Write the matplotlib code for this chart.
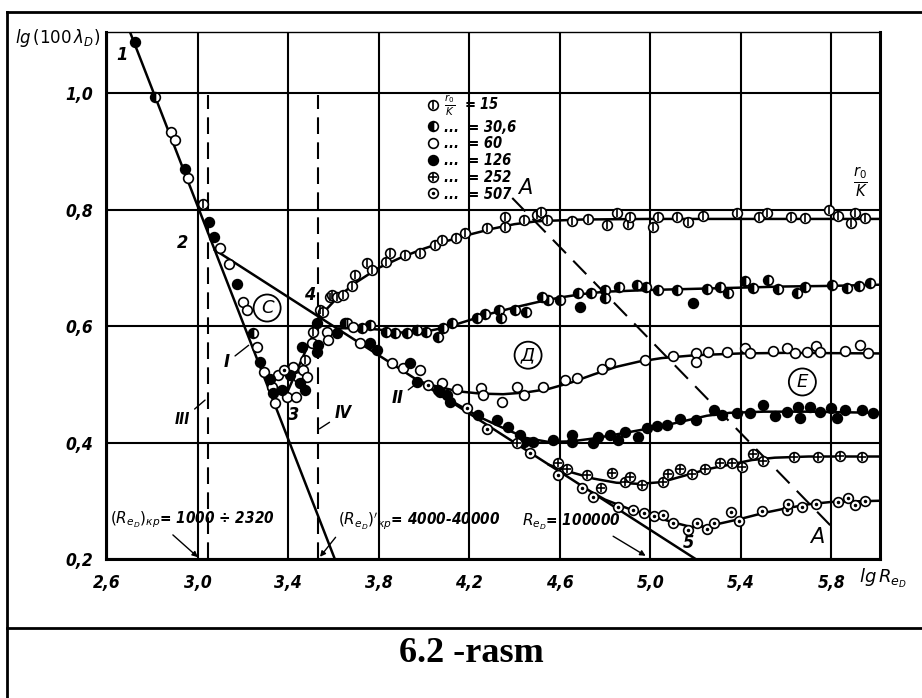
import numpy as np
import matplotlib.pyplot as plt
from matplotlib.lines import Line2D
from matplotlib.legend_handler import HandlerTuple

plt.rcParams['font.family'] = ['DejaVu Sans']
plt.rcParams['mathtext.fontset'] = 'dejavusans'

# axis ticks
xticks = [2.6, 3.0, 3.4, 3.8, 4.2, 4.6, 5.0, 5.4, 5.8]
xtick_labels = ['2,6', '3,0', '3,4', '3,8', '4,2', '4,6', '5,0', '5,4', '5,8']
yticks = [0.2, 0.4, 0.6, 0.8, 1.0]
ytick_labels = ['0,2', '0,4', '0,6', '0,8', '1,0']

# straight lines: laminar (1-2-3) and Blasius (2-4-5)
laminar_x = [2.700, 3.606]
laminar_y = [1.106, 0.200]
blasius_x = [3.075, 5.200]
blasius_y = [0.731, 0.200]
trans_x = [3.40, 3.48, 3.56]          # 3 - 4
trans_y = [0.49, 0.56, 0.625]
crit1_x = 3.045                       # III
crit2_x = 3.530                       # IV
crit_y = [0.2, 0.997]
aa_x = [4.39, 5.82]                   # A - A
aa_y = [0.82, 0.248]

# fitted curves for each r0/K
c15_x = [3.56, 3.62, 3.70, 3.80, 3.90, 4.00, 4.10, 4.20, 4.30, 4.40, 4.50, 4.70, 5.00, 6.01]
c15_y = [0.625, 0.650, 0.675, 0.700, 0.718, 0.733, 0.746, 0.757, 0.767, 0.775, 0.780, 0.783, 0.784, 0.784]
c30_x = [3.62, 3.70, 3.80, 3.90, 4.00, 4.10, 4.20, 4.30, 4.40, 4.50, 4.60, 4.70, 4.80, 5.00, 5.20, 5.40, 5.60, 5.80, 6.01]
c30_y = [0.596, 0.597, 0.594, 0.589, 0.590, 0.598, 0.610, 0.622, 0.632, 0.641, 0.649, 0.655, 0.659, 0.662, 0.664, 0.666, 0.668, 0.669, 0.671]
c60_x = [3.98, 4.05, 4.15, 4.25, 4.35, 4.45, 4.55, 4.65, 4.75, 4.85, 4.95, 5.05, 5.20, 5.40, 5.60, 6.01]
c60_y = [0.505, 0.497, 0.488, 0.484, 0.483, 0.486, 0.492, 0.503, 0.517, 0.530, 0.539, 0.545, 0.550, 0.553, 0.554, 0.553]
c126_x = [4.05, 4.15, 4.25, 4.35, 4.45, 4.55, 4.65, 4.75, 4.85, 4.95, 5.05, 5.15, 5.25, 5.35, 5.50, 5.70, 6.01]
c126_y = [0.488, 0.465, 0.443, 0.425, 0.408, 0.401, 0.402, 0.407, 0.414, 0.421, 0.428, 0.437, 0.446, 0.451, 0.453, 0.453, 0.451]
c252_x = [4.55, 4.65, 4.75, 4.85, 4.95, 5.05, 5.15, 5.25, 5.35, 5.45, 5.55, 5.70, 6.01]
c252_y = [0.362, 0.349, 0.338, 0.331, 0.329, 0.332, 0.343, 0.354, 0.362, 0.370, 0.374, 0.376, 0.376]
c507_x = [4.74, 4.80, 4.90, 5.00, 5.10, 5.18, 5.25, 5.32, 5.40, 5.50, 5.60, 5.70, 5.80, 6.01]
c507_y = [0.315, 0.302, 0.287, 0.275, 0.263, 0.255, 0.256, 0.262, 0.269, 0.279, 0.287, 0.294, 0.298, 0.300]

# measured points (lg Re, lg 100 lambda)
pts15 = [(3.024, 0.809), (3.475, 0.541), (3.51, 0.59), (3.541, 0.627), (3.555, 0.624), (3.585, 0.65),
         (3.594, 0.653), (3.616, 0.65), (3.64, 0.653), (3.683, 0.669), (3.696, 0.688), (3.75, 0.708),
         (3.77, 0.696), (3.83, 0.71), (3.85, 0.725), (3.917, 0.722), (3.983, 0.725), (4.05, 0.739),
         (4.08, 0.747), (4.14, 0.751), (4.18, 0.759), (4.28, 0.768), (4.36, 0.787), (4.36, 0.77),
         (4.44, 0.782), (4.50, 0.791), (4.515, 0.796), (4.545, 0.782), (4.655, 0.78), (4.725, 0.784),
         (4.81, 0.773), (4.855, 0.794), (4.90, 0.775), (4.91, 0.787), (5.01, 0.77), (5.035, 0.787),
         (5.12, 0.787), (5.165, 0.779), (5.235, 0.789), (5.385, 0.794), (5.48, 0.787), (5.515, 0.794),
         (5.62, 0.787), (5.685, 0.785), (5.79, 0.799), (5.83, 0.789), (5.885, 0.777), (5.905, 0.794),
         (5.95, 0.785)]
pts30 = [(2.812, 0.993), (3.245, 0.588), (3.652, 0.605), (3.66, 0.605), (3.727, 0.597), (3.76, 0.602),
         (3.83, 0.59), (3.87, 0.588), (3.925, 0.588), (3.97, 0.593), (4.01, 0.59), (4.06, 0.581),
         (4.085, 0.597), (4.125, 0.605), (4.235, 0.614), (4.27, 0.62), (4.33, 0.627), (4.34, 0.614),
         (4.40, 0.627), (4.45, 0.624), (4.52, 0.65), (4.55, 0.645), (4.60, 0.645), (4.68, 0.657),
         (4.74, 0.657), (4.80, 0.662), (4.80, 0.648), (4.86, 0.667), (4.94, 0.67), (4.98, 0.667),
         (5.035, 0.662), (5.12, 0.662), (5.25, 0.664), (5.31, 0.667), (5.345, 0.657), (5.42, 0.677),
         (5.455, 0.665), (5.52, 0.679), (5.565, 0.664), (5.65, 0.657), (5.685, 0.667), (5.805, 0.67),
         (5.87, 0.665), (5.92, 0.669), (5.97, 0.674)]
pts60 = [(2.883, 0.933), (2.90, 0.919), (2.958, 0.854), (3.099, 0.734), (3.139, 0.706), (3.201, 0.641),
         (3.219, 0.627), (3.263, 0.564), (3.294, 0.521), (3.329, 0.495), (3.343, 0.468), (3.356, 0.516),
         (3.395, 0.478), (3.422, 0.53), (3.435, 0.478), (3.444, 0.512), (3.466, 0.524), (3.484, 0.512),
         (3.506, 0.571), (3.572, 0.59), (3.577, 0.576), (3.687, 0.598), (3.718, 0.571), (3.86, 0.536),
         (3.908, 0.528), (3.983, 0.524), (4.08, 0.502), (4.147, 0.492), (4.25, 0.494), (4.26, 0.482),
         (4.346, 0.47), (4.41, 0.495), (4.44, 0.482), (4.527, 0.495), (4.624, 0.507), (4.677, 0.51),
         (4.788, 0.526), (4.823, 0.536), (4.978, 0.542), (5.10, 0.548), (5.20, 0.554), (5.20, 0.538),
         (5.256, 0.555), (5.34, 0.555), (5.42, 0.562), (5.442, 0.554), (5.543, 0.557), (5.605, 0.562),
         (5.64, 0.554), (5.694, 0.555), (5.73, 0.566), (5.75, 0.555), (5.86, 0.557), (5.928, 0.567),
         (5.96, 0.554)]
pts126 = [(2.724, 1.088), (2.945, 0.869), (3.051, 0.779), (3.073, 0.753), (3.175, 0.672), (3.276, 0.538),
          (3.32, 0.509), (3.334, 0.485), (3.373, 0.49), (3.409, 0.516), (3.453, 0.502), (3.462, 0.564),
          (3.475, 0.49), (3.528, 0.605), (3.528, 0.555), (3.533, 0.567), (3.617, 0.588), (3.762, 0.571),
          (3.793, 0.559), (3.939, 0.536), (4.063, 0.49), (4.103, 0.482), (3.97, 0.504), (4.072, 0.487),
          (4.116, 0.47), (4.24, 0.447), (4.324, 0.439), (4.372, 0.427), (4.425, 0.413), (4.44, 0.401),
          (4.483, 0.401), (4.571, 0.404), (4.655, 0.413), (4.655, 0.401), (4.748, 0.399), (4.77, 0.41),
          (4.823, 0.413), (4.858, 0.404), (4.89, 0.418), (4.947, 0.41), (4.987, 0.425), (5.03, 0.428),
          (5.075, 0.43), (5.133, 0.44), (5.20, 0.439), (5.28, 0.456), (5.318, 0.447), (5.385, 0.451),
          (5.442, 0.451), (5.50, 0.464), (5.553, 0.445), (5.605, 0.452), (5.654, 0.461), (5.663, 0.442),
          (5.707, 0.461), (5.75, 0.452), (5.80, 0.459), (5.827, 0.442), (5.86, 0.456), (5.937, 0.456),
          (5.985, 0.451), (4.69, 0.633), (5.19, 0.64)]
pts252 = [(4.412, 0.399), (4.593, 0.365), (4.633, 0.355), (4.72, 0.344), (4.78, 0.322), (4.83, 0.348),
          (4.89, 0.332), (4.91, 0.341), (4.965, 0.327), (5.057, 0.332), (5.08, 0.346), (5.133, 0.355),
          (5.186, 0.346), (5.243, 0.355), (5.31, 0.365), (5.362, 0.365), (5.407, 0.358), (5.455, 0.38),
          (5.50, 0.368), (5.633, 0.375), (5.742, 0.375), (5.84, 0.377), (5.937, 0.375)]
pts507 = [(3.382, 0.524), (4.019, 0.499), (4.19, 0.459), (4.28, 0.423), (4.47, 0.382), (4.59, 0.344),
          (4.70, 0.322), (4.748, 0.306), (4.858, 0.289), (4.925, 0.284), (4.97, 0.279), (5.015, 0.274),
          (5.057, 0.276), (5.10, 0.262), (5.168, 0.25), (5.208, 0.262), (5.25, 0.252), (5.28, 0.262),
          (5.358, 0.281), (5.394, 0.265), (5.495, 0.282), (5.605, 0.284), (5.61, 0.294), (5.672, 0.289),
          (5.73, 0.294), (5.83, 0.298), (5.875, 0.305), (5.905, 0.293), (5.95, 0.30)]

legend_labels = [r'$\frac{r_0}{K}$  = 15', '...  = 30,6', '...  = 60', '...  = 126', '...  = 252', '...  = 507']

ms = 7
mew = 1.2
font = dict(style='italic', stretch='condensed', weight='bold')

fig = plt.figure(figsize=(9.22, 6.98), dpi=100)
ax = fig.add_axes([106 / 922, 139 / 698, 774 / 922, 527 / 698])
ax.set_xlim(2.595, 6.015)
ax.set_ylim(0.2, 1.105)

ax.set_xticks(xticks)
ax.set_xticklabels(xtick_labels, fontsize=12.5, **font)
ax.set_yticks(yticks)
ax.set_yticklabels(ytick_labels, fontsize=12.5, **font)
ax.tick_params(length=0)
ax.tick_params(axis='x', pad=11)
ax.tick_params(axis='y', pad=9)
ax.grid(True, color='k', lw=1.5)
ax.set_axisbelow(True)
for s in ['left', 'bottom', 'right']:
    ax.spines[s].set_linewidth(2.2)
ax.spines['top'].set_linewidth(1.0)


def draw(pts, kind, **kw):
    x, y = np.array(pts).T
    if kind == 'bar':
        a = ax.plot(x, y, 'o', mfc='white', mec='k', ms=ms, mew=mew, **kw)[0]
        b = ax.plot(x, y, '|', color='k', ms=ms - 1, mew=mew, **kw)[0]
        return (a, b)
    if kind == 'half':
        a = ax.plot(x, y, 'o', mfc='k', mfcalt='white', fillstyle='left', mec='k', ms=ms, mew=mew, **kw)[0]
        return (a,)
    if kind == 'open':
        return (ax.plot(x, y, 'o', mfc='white', mec='k', ms=ms, mew=mew, **kw)[0],)
    if kind == 'full':
        return (ax.plot(x, y, 'o', mfc='k', mec='k', ms=ms, mew=mew, **kw)[0],)
    if kind == 'cross':
        a = ax.plot(x, y, 'o', mfc='white', mec='k', ms=ms, mew=mew, **kw)[0]
        b = ax.plot(x, y, '+', color='k', ms=ms - 1, mew=mew, **kw)[0]
        return (a, b)
    a = ax.plot(x, y, 'o', mfc='white', mec='k', ms=ms, mew=mew, **kw)[0]
    b = ax.plot(x, y, '.', color='k', ms=3, **kw)[0]
    return (a, b)


lw = 1.8
ax.plot(laminar_x, laminar_y, color='k', lw=lw)
ax.plot(blasius_x, blasius_y, color='k', lw=lw)
ax.plot(trans_x, trans_y, color='k', lw=lw)
for cx, cy in [(c15_x, c15_y), (c30_x, c30_y), (c60_x, c60_y),
               (c126_x, c126_y), (c252_x, c252_y), (c507_x, c507_y)]:
    ax.plot(cx, cy, color='k', lw=lw, solid_capstyle='round')
ax.plot([crit1_x, crit1_x], crit_y, color='k', lw=1.5, dashes=(8, 4))
ax.plot([crit2_x, crit2_x], crit_y, color='k', lw=1.5, dashes=(8, 4))
ax.plot(aa_x, aa_y, color='k', lw=1.5, dashes=(9, 5))

handles = [draw(pts15, 'bar'), draw(pts30, 'half'), draw(pts60, 'open'),
           draw(pts126, 'full'), draw(pts252, 'cross'), draw(pts507, 'dot')]

leg = ax.legend(handles, legend_labels, handler_map={tuple: HandlerTuple(ndivide=1)},
                loc='upper left', bbox_to_anchor=(0.405, 0.9), frameon=False,
                handlelength=0.8, handletextpad=0.4, labelspacing=0.12, borderpad=0,
                prop=dict(size=10.5, **font))

# text labels on the chart
txt = dict(fontsize=13, **font)
ax.text(2.666, 1.065, '1', ha='center', va='center', **txt)
ax.text(2.931, 0.742, '2', ha='center', va='center', **txt)
ax.text(3.422, 0.447, '3', ha='center', va='center', **txt)
ax.text(3.497, 0.653, '4', ha='center', va='center', **txt)
ax.text(5.168, 0.227, '5', ha='center', va='center', **txt)
ax.text(4.447, 0.837, 'A', ha='center', va='center', fontsize=15, style='italic')
ax.text(5.738, 0.238, 'A', ha='center', va='center', fontsize=15, style='italic')
circ = dict(boxstyle='circle,pad=0.25', fc='white', ec='k', lw=1.3)
ax.text(3.307, 0.631, 'С', ha='center', va='center', fontsize=13, style='italic', bbox=circ)
ax.text(4.46, 0.55, 'Д', ha='center', va='center', fontsize=13, style='italic', bbox=circ)
ax.text(5.672, 0.504, 'Е', ha='center', va='center', fontsize=13, style='italic', bbox=circ)
ax.text(5.93, 0.845, r'$\frac{r_0}{K}$', ha='center', va='center', fontsize=15)

lead = dict(arrowstyle='-', color='k', lw=1.0)
ax.annotate('I', xy=(3.235, 0.57), xytext=(3.13, 0.538), ha='center', va='center',
            arrowprops=lead, **txt)
ax.annotate('II', xy=(3.98, 0.505), xytext=(3.882, 0.476), ha='center', va='center',
            arrowprops=lead, **txt)
ax.annotate('III', xy=(3.042, 0.476), xytext=(2.931, 0.439), ha='center', va='center',
            arrowprops=lead, fontsize=11, **font)
ax.annotate('IV', xy=(3.528, 0.421), xytext=(3.643, 0.45), ha='center', va='center',
            arrowprops=lead, fontsize=12, **font)

arr = dict(arrowstyle='-|>', color='k', lw=1.0, mutation_scale=8)
ax.annotate(r'$(R_{e_D})_{кр}$= 1000 ÷ 2320', xy=(3.01, 0.2), xytext=(2.613, 0.267),
            ha='left', va='center', arrowprops=dict(arr, relpos=(0.35, 0.0)), fontsize=11, **font)
ax.annotate(r"$(R_{e_D})'_{кр}$= 4000-40000", xy=(3.533, 0.2), xytext=(3.62, 0.264),
            ha='left', va='center', arrowprops=dict(arr, relpos=(0.02, 0.1)), fontsize=11, **font)
ax.annotate(r'$R_{e_D}$= 100000', xy=(4.99, 0.203), xytext=(4.434, 0.264),
            ha='left', va='center', arrowprops=dict(arr, relpos=(0.85, 0.0)), fontsize=11, **font)

ax.text(-0.008, 0.989, r'$lg\,(100\,\lambda_D)$', transform=ax.transAxes, ha='right', va='center',
        fontsize=12)
ax.text(1.004, -0.036, r'$lg\,R_{e_D}$', transform=ax.transAxes, ha='center', va='center',
        fontsize=13)

# outer table frame
fig.add_artist(Line2D([7 / 922, 1.0], [1 - 12 / 698, 1 - 12 / 698], color='k', lw=2))
fig.add_artist(Line2D([7 / 922, 7 / 922], [0.0, 1 - 12 / 698], color='k', lw=2))
fig.add_artist(Line2D([7 / 922, 1.0], [1 - 628 / 698, 1 - 628 / 698], color='k', lw=2))
fig.text(471 / 922, 1 - 654 / 698, '6.2 -rasm', ha='center', va='center', fontsize=26,
         fontweight='bold', family='Liberation Serif')

fig.savefig('out.png', dpi=100)
